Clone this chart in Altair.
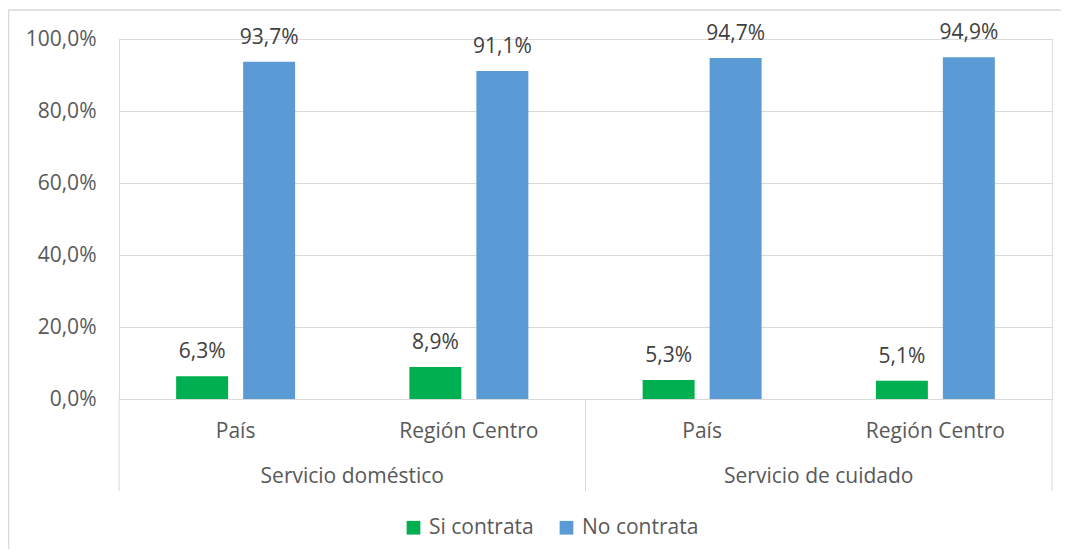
import altair as alt
import pandas as pd

groups = ["Servicio doméstico", "Servicio doméstico", "Servicio de cuidado", "Servicio de cuidado"]
places = ["País", "Región Centro", "País", "Región Centro"]
si_contrata = [6.3, 8.9, 5.3, 5.1]
no_contrata = [93.7, 91.1, 94.7, 94.9]
series = ["Si contrata", "No contrata"]
colors = ["#00b050", "#5b9bd5"]
y_ticks = [0, 0.2, 0.4, 0.6, 0.8, 1.0]

cats = [f"{g}|{p}" for g, p in zip(groups, places)]
rows = []
for c, s, n in zip(cats, si_contrata, no_contrata):
    rows.append({"cat": c, "serie": series[0], "v": s / 100})
    rows.append({"cat": c, "serie": series[1], "v": n / 100})
df = pd.DataFrame(rows)

group_names = ["Servicio doméstico", "Servicio de cuidado"]
grp_df = pd.DataFrame({"cat": [cats[0], cats[2]], "label": group_names})
sep_left = pd.DataFrame({"cat": [cats[0]]})
sep_right = pd.DataFrame({"cat": [cats[1], cats[3]]})

FONT = "Open Sans"
GRAY = "#595959"
W, H = 933, 360

xscale = alt.Scale(domain=cats, paddingInner=0, paddingOuter=0)
xoff_scale = alt.Scale(domain=series, paddingInner=0.224, paddingOuter=0.853)

x_enc = alt.X("cat:N", scale=xscale, sort=cats,
              axis=alt.Axis(title=None, domain=True, domainColor="#d9d9d9", domainWidth=1,
                            ticks=False, grid=False, labelAngle=0, labelFontSize=21,
                            labelFont=FONT, labelColor=GRAY, labelBaseline="alphabetic",
                            labelPadding=38,
                            labelExpr="split(datum.label, '|')[1]"))
y_enc = alt.Y("v:Q", scale=alt.Scale(domain=[0, 1], nice=False),
              axis=alt.Axis(title=None, values=y_ticks, domain=False, ticks=False,
                            grid=True, gridColor="#d9d9d9", gridWidth=1,
                            labelFontSize=21, labelFont=FONT, labelColor=GRAY,
                            labelPadding=23,
                            labelExpr="replace(format(datum.value, '.1%'), '.', ',')"))

base = alt.Chart(df)

bars = base.mark_bar().encode(
    x=x_enc,
    xOffset=alt.XOffset("serie:N", scale=xoff_scale, sort=series),
    y=y_enc,
    color=alt.Color("serie:N", scale=alt.Scale(domain=series, range=colors),
                    legend=alt.Legend(title=None, orient="none", legendX=284, legendY=478,
                                      direction="horizontal", symbolType="square",
                                      symbolSize=188, symbolStrokeWidth=0,
                                      labelFontSize=21, labelFont=FONT, labelColor=GRAY,
                                      columnPadding=22, labelOffset=5, padding=0)),
)

labels = base.transform_calculate(
    txt="replace(format(datum.v, '.1%'), '.', ',')"
).mark_text(fontSize=21, font=FONT, color="#404040", baseline="alphabetic", dy=-18).encode(
    x=alt.X("cat:N", scale=xscale, sort=cats),
    xOffset=alt.XOffset("serie:N", scale=xoff_scale, sort=series),
    y="v:Q",
    text="txt:N",
)

group_labels = alt.Chart(grp_df).mark_text(fontSize=21, font=FONT, color=GRAY,
                                           baseline="alphabetic").encode(
    x=alt.X("cat:N", scale=xscale, sort=cats, bandPosition=1),
    y=alt.value(444.3),
    text="label:N",
)

sep_l = alt.Chart(sep_left).mark_rule(color="#d9d9d9", strokeWidth=1).encode(
    x=alt.X("cat:N", scale=xscale, sort=cats, bandPosition=0),
    y=alt.value(360), y2=alt.value(452),
)
sep_r = alt.Chart(sep_right).mark_rule(color="#d9d9d9", strokeWidth=1).encode(
    x=alt.X("cat:N", scale=xscale, sort=cats, bandPosition=1),
    y=alt.value(360), y2=alt.value(452),
)

frame_df = pd.DataFrame({"a": [0]})
border_top = alt.Chart(frame_df).mark_rule(color="#d9d9d9", strokeWidth=1.5).encode(
    x=alt.value(-110.5), x2=alt.value(1000), y=alt.value(-29)
)
border_left = alt.Chart(frame_df).mark_rule(color="#d9d9d9", strokeWidth=1.5).encode(
    x=alt.value(-110.5), y=alt.value(-29), y2=alt.value(700)
)

chart = alt.layer(border_top, border_left, bars, labels, group_labels, sep_l, sep_r).properties(
    width=W, height=H,
    autosize=alt.AutoSizeParams(type="none"),
    padding={"left": 111, "top": 31, "right": 9, "bottom": 150},
).configure_view(stroke=None).configure(background="white")

chart.save("out.html", embed_options={"renderer": "svg", "actions": False})
